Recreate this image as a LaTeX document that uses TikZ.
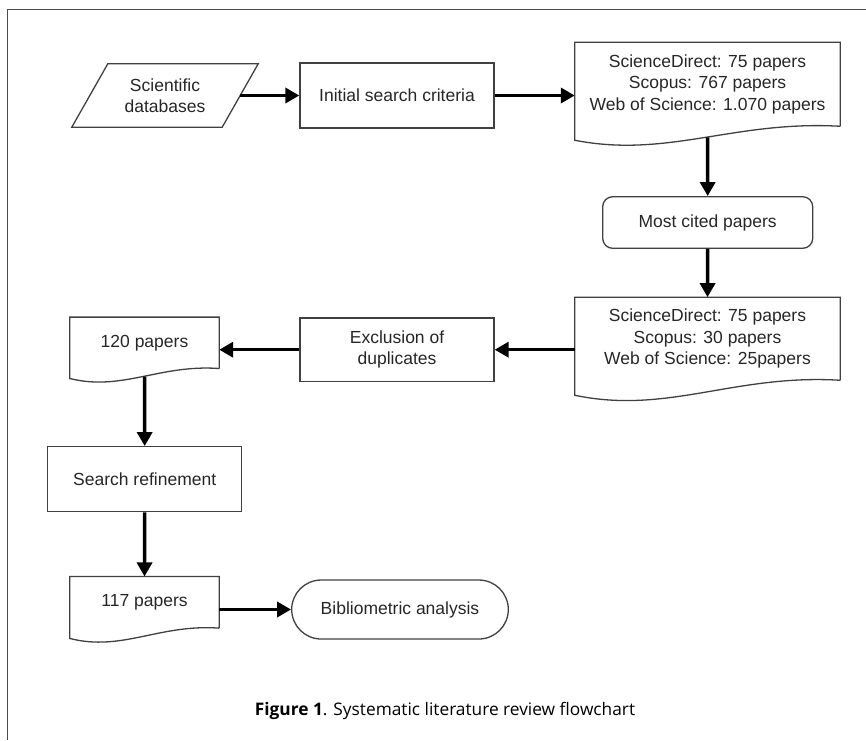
\documentclass[tikz,border=0pt]{standalone}
\usepackage{fontspec}
\setmainfont{Liberation Sans}
\newfontfamily\capfont{Open Sans}
\usetikzlibrary{arrows.meta,calc}
\newcommand\docshape[2]{%
  \draw[edge] (#1.south east) -- (#1.north east) -- (#1.north west) -- ($(#1.south west)+(0,#2)$)
    .. controls ($(#1.south west)!0.35!(#1.south east)+(0,2.3*#2)$) and ($(#1.south west)!0.6!(#1.south east)+(0,-0.43*#2)$) .. (#1.south east);}
\begin{document}
\begin{tikzpicture}[x=1pt,y=-1pt,
  txt/.style={align=center, text=black!85, font=\fontsize{17.5}{21.5}\selectfont, inner sep=0pt},
  box/.style={txt, draw=black!75, line width=1.3pt},
  edge/.style={draw=black!75, line width=1.3pt},
  arr/.style={line width=3.5pt, -{Triangle[length=14pt,width=15pt]}}]
\useasboundingbox (0,0) rectangle (866,740);
% frame
\draw[black!70, line width=1pt] (7.3,740) -- (7.3,9) -- (866,9);
% row 1
\node[txt, minimum width=150pt, minimum height=63pt] (sci) at (165,95.5) {Scientific\\databases};
\draw[edge] ($(sci.north west)+(18,0)$) -- ($(sci.north east)+(18,0)$) -- ($(sci.south east)+(-18,0)$) -- ($(sci.south west)+(-18,0)$) -- cycle;
\node[box, minimum width=194pt, minimum height=65pt] (init) at (397,95.5) {Initial search criteria};
\node[txt, minimum width=265pt, minimum height=83.7pt] (d1) at (707.5,84.2) {ScienceDirect: 75 papers\\Scopus: 767 papers\\Web of Science: 1.070 papers};
\docshape{d1}{14}
% most cited
\node[box, rounded corners=10pt, minimum width=210pt, minimum height=51.6pt] (mc) at (707.7,222.5) {Most cited papers};
% row 3
\node[txt, minimum width=265pt, minimum height=82.7pt] (d2) at (707.5,338.7) {ScienceDirect: 75 papers\\Scopus: 30 papers\\Web of Science: 25papers};
\docshape{d2}{15}
\node[box, minimum width=194pt, minimum height=63.5pt] (excl) at (397,349.7) {Exclusion of\\duplicates};
\node[txt, minimum width=149pt, minimum height=51pt] (p120) at (144.5,342.8) {120 papers};
\docshape{p120}{10}
% left column
\node[box, minimum width=194pt, minimum height=65pt] (search) at (144.7,479.2) {Search refinement};
\node[txt, minimum width=149pt, minimum height=51.3pt] (p117) at (144.5,602.3) {117 papers};
\docshape{p117}{10.3}
\node[box, rounded corners=29.5pt, minimum width=216.6pt, minimum height=59pt] (term) at (400,609.5) {Bibliometric analysis};
% arrows
\draw[arr] (sci.east) -- (init.west);
\draw[arr] (init.east) -- (init.east -| d1.west);
\draw[arr] ([yshift=-11pt]d1.south) -- (mc.north);
\draw[arr] (mc.south) -- (d2.north);
\draw[arr] (d2.west |- excl.east) -- (excl.east);
\draw[arr] (excl.west) -- (excl.west -| p120.east);
\draw[arr] ([yshift=-8pt]p120.south) -- (search.north);
\draw[arr] (search.south) -- (p117.north);
\draw[arr] (p117.east |- term.west) -- (term.west);
% caption
\node[anchor=base, inner sep=0pt, font=\capfont\fontsize{17.3}{20}\selectfont] (cap) at (445,715.7) {\textbf{Figure 1}. Systematic literature review flowchart};
\end{tikzpicture}
\end{document}
